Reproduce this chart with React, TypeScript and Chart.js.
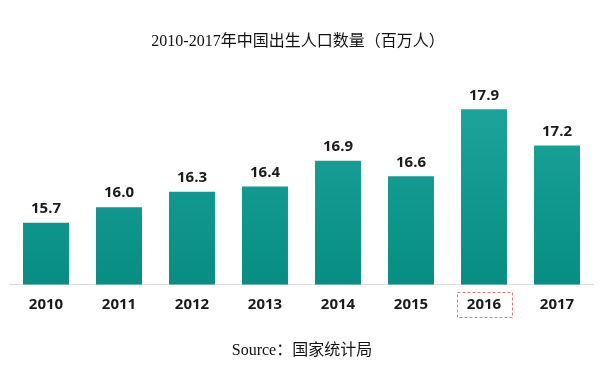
import React, { useEffect, useRef } from "react";
import { Chart, registerables } from "chart.js";

Chart.register(...registerables);

const categories = ["2010", "2011", "2012", "2013", "2014", "2015", "2016", "2017"];
const births = [15.7, 16.0, 16.3, 16.4, 16.9, 16.6, 17.9, 17.2];
const valueLabels = ["15.7", "16.0", "16.3", "16.4", "16.9", "16.6", "17.9", "17.2"];
const highlighted = ["2016"];
const titleText = "2010-2017年中国出生人口数量（百万人）";
const sourceText = "Source：国家统计局";

const textPlugin = {
  id: "textPlugin",
  afterDraw(chart: any) {
    const ctx = chart.ctx;
    ctx.save();
    ctx.fillStyle = "#111111";
    ctx.textAlign = "center";
    ctx.textBaseline = "middle";
    ctx.font = "16px 'Liberation Serif', 'Noto Sans CJK SC', serif";
    ctx.fillText(titleText, 298, 42);
    ctx.font = "16px 'Liberation Serif', 'Noto Sans CJK SC', serif";
    ctx.fillText(sourceText, 302, 351);

    // value labels
    const meta = chart.getDatasetMeta(0);
    ctx.font = "bold 15px 'Open Sans', sans-serif";
    ctx.fillStyle = "#1a1a1a";
    meta.data.forEach((bar: any, i: number) => {
      ctx.fillText(valueLabels[i], bar.x, bar.y - 14);
    });

    // dashed box around highlighted tick
    const xs = chart.scales.x;
    ctx.strokeStyle = "#e07a7a";
    ctx.lineWidth = 1;
    ctx.setLineDash([3, 2]);
    highlighted.forEach((c) => {
      const idx = categories.indexOf(c);
      const cx = xs.getPixelForValue(idx);
      ctx.strokeRect(Math.round(cx - 27.5) + 0.5, 292.5, 55, 25);
    });
    ctx.restore();
  },
};

export default function App() {
  const ref = useRef<HTMLCanvasElement>(null);
  useEffect(() => {
    const canvas = ref.current!;
    const ctx = canvas.getContext("2d")!;
    const grad = ctx.createLinearGradient(0, 110, 0, 285);
    grad.addColorStop(0, "#1ca39a");
    grad.addColorStop(1, "#078e83");
    const chart = new Chart(canvas, {
      type: "bar",
      data: {
        labels: categories,
        datasets: [
          {
            data: births,
            backgroundColor: grad,
            barPercentage: 0.63,
            categoryPercentage: 1,
          },
        ],
      },
      options: {
        animation: false,
        responsive: true,
        maintainAspectRatio: false,
        layout: { padding: { left: 9.5, right: 9.5, top: 78.4, bottom: 48.5 } },
        plugins: {
          legend: { display: false },
          title: { display: false },
          tooltip: { enabled: false },
        },
        scales: {
          x: {
            grid: { display: false, drawTicks: false },
            border: { display: true, color: "#dcdcdc", width: 1 },
            ticks: {
              padding: 11,
              color: "#1a1a1a",
              font: { family: "'Open Sans', sans-serif", size: 15, weight: "bold" },
            },
            afterFit(scale: any) {
              scale.height = 40;
            },
          },
          y: {
            display: false,
            min: 14.5,
            max: 18.5,
          },
        },
      },
      plugins: [textPlugin],
    });
    return () => chart.destroy();
  }, []);
  return (
    <div style={{ position: "fixed", left: 0, top: 0, width: 603, height: 373, background: "#fff" }}>
      <canvas ref={ref} />
    </div>
  );
}
